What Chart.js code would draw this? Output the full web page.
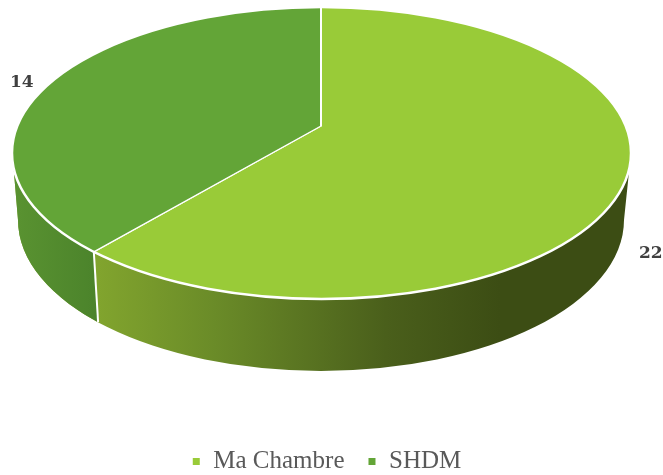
<!DOCTYPE html>
<html>
<head>
<meta charset="utf-8">
<style>
  html, body { margin: 0; padding: 0; background: #fff; }
  canvas { display: block; }
</style>
<script src="https://cdn.jsdelivr.net/npm/chart.js@4"></script>
</head>
<body>
<canvas id="pie" width="663" height="475"></canvas>
<script>
  const categories = ["Ma Chambre", "SHDM"];
  const counts = [22, 14];
  const sliceColors = ["#99cb38", "#63a537"];

  // 3D projection of the pie
  const TILT = 0.465;
  const APEX = { x: 321, y: 126 };
  const TOP = { x: 321.5, y: 153, rx: 309.5, ry: 146 };
  const BASE = { x: 321, y: 220, rx: 303, ry: 151 };
  const LABEL_POS = [{ x: 639, y: 258 }, { x: 10, y: 87 }];

  /* === where a slice edge meets the rim === */
  function rimPoint(angle) {
    const dx = Math.cos(angle), dy = TILT * Math.sin(angle);
    const ox = (APEX.x - TOP.x) / TOP.rx, oy = (APEX.y - TOP.y) / TOP.ry;
    const ax = dx / TOP.rx, ay = dy / TOP.ry;
    const a = ax * ax + ay * ay;
    const b = 2 * (ox * ax + oy * ay);
    const c = ox * ox + oy * oy - 1;
    const s = (-b + Math.sqrt(b * b - 4 * a * c)) / (2 * a);
    return { x: APEX.x + dx * s, y: APEX.y + dy * s };
  }

  /* === side wall silhouette === */
  function wallPath(ctx) {
    ctx.beginPath();
    ctx.ellipse(TOP.x, TOP.y, TOP.rx, TOP.ry, 0, 0.1, Math.PI - 0.1);
    ctx.lineTo(BASE.x - BASE.rx, BASE.y);
    ctx.ellipse(BASE.x, BASE.y, BASE.rx, BASE.ry, 0, Math.PI, 0, true);
    ctx.closePath();
  }

  function drawWalls(chart) {
    const ctx = chart.ctx;
    const first = chart.getDatasetMeta(0).data[0];
    const top = rimPoint(first.endAngle);
    const t = Math.atan2((top.y - TOP.y) / TOP.ry, (top.x - TOP.x) / TOP.rx);
    const bottom = {
      x: BASE.x + BASE.rx * Math.cos(t),
      y: BASE.y + BASE.ry * Math.sin(t),
    };

    const lightGrad = ctx.createLinearGradient(top.x, 0, 500, 0);
    lightGrad.addColorStop(0, "#82a52e");
    lightGrad.addColorStop(0.3, "#6a8b28");
    lightGrad.addColorStop(0.72, "#4a5f1b");
    lightGrad.addColorStop(1, "#3c4d14");
    ctx.fillStyle = lightGrad;
    wallPath(ctx);
    ctx.fill();

    // part of the wall that belongs to the second slice
    ctx.save();
    ctx.beginPath();
    ctx.moveTo(0, top.y - 140);
    ctx.lineTo(top.x, top.y - 140);
    ctx.lineTo(top.x, top.y);
    ctx.lineTo(bottom.x, bottom.y);
    ctx.lineTo(bottom.x, 475);
    ctx.lineTo(0, 475);
    ctx.closePath();
    ctx.clip();
    const darkGrad = ctx.createLinearGradient(TOP.x - TOP.rx, 0, bottom.x, 0);
    darkGrad.addColorStop(0, "#5a9331");
    darkGrad.addColorStop(1, "#4b832b");
    ctx.fillStyle = darkGrad;
    wallPath(ctx);
    ctx.fill();
    ctx.restore();

    ctx.strokeStyle = "#fff";
    ctx.lineWidth = 2;
    ctx.beginPath();
    ctx.moveTo(top.x, top.y);
    ctx.lineTo(bottom.x, bottom.y);
    ctx.stroke();
  }

  const pie3d = {
    id: "pie3d",
    beforeDatasetsDraw(chart) {
      const ctx = chart.ctx;
      const arc = chart.getDatasetMeta(0).data[0];
      drawWalls(chart);
      ctx.save();
      ctx.beginPath();
      ctx.ellipse(TOP.x, TOP.y, TOP.rx, TOP.ry, 0, 0, Math.PI * 2);
      ctx.clip();
      ctx.translate(APEX.x, APEX.y);
      ctx.scale(1, TILT);
      ctx.translate(-arc.x, -arc.y);
    },
    afterDatasetsDraw(chart) {
      const ctx = chart.ctx;
      ctx.restore();
      ctx.strokeStyle = "#fff";
      ctx.lineWidth = 2.5;
      ctx.beginPath();
      ctx.ellipse(TOP.x, TOP.y, TOP.rx, TOP.ry, 0, 0, Math.PI * 2);
      ctx.stroke();

      // value labels
      ctx.fillStyle = "#404040";
      ctx.font = "bold 17px 'DejaVu Serif'";
      ctx.textAlign = "left";
      ctx.textBaseline = "alphabetic";
      counts.forEach((v, i) => ctx.fillText(String(v), LABEL_POS[i].x, LABEL_POS[i].y));
    },
  };

  new Chart(document.getElementById("pie"), {
    type: "pie",
    data: {
      labels: categories,
      datasets: [{
        data: counts,
        backgroundColor: sliceColors,
        borderColor: "#fff",
        borderWidth: 2,
        radius: 430,
        clip: false,
      }],
    },
    options: {
      responsive: false,
      animation: false,
      layout: { padding: { bottom: -9, right: 10 } },
      plugins: {
        tooltip: { enabled: false },
        legend: {
          position: "bottom",
          labels: {
            usePointStyle: true,
            pointStyle: "rect",
            boxWidth: 9,
            boxHeight: 9,
            padding: 23,
            color: "#595959",
            font: { family: "'Liberation Serif'", size: 25 },
          },
        },
      },
    },
    plugins: [pie3d],
  });
</script>
</body>
</html>
